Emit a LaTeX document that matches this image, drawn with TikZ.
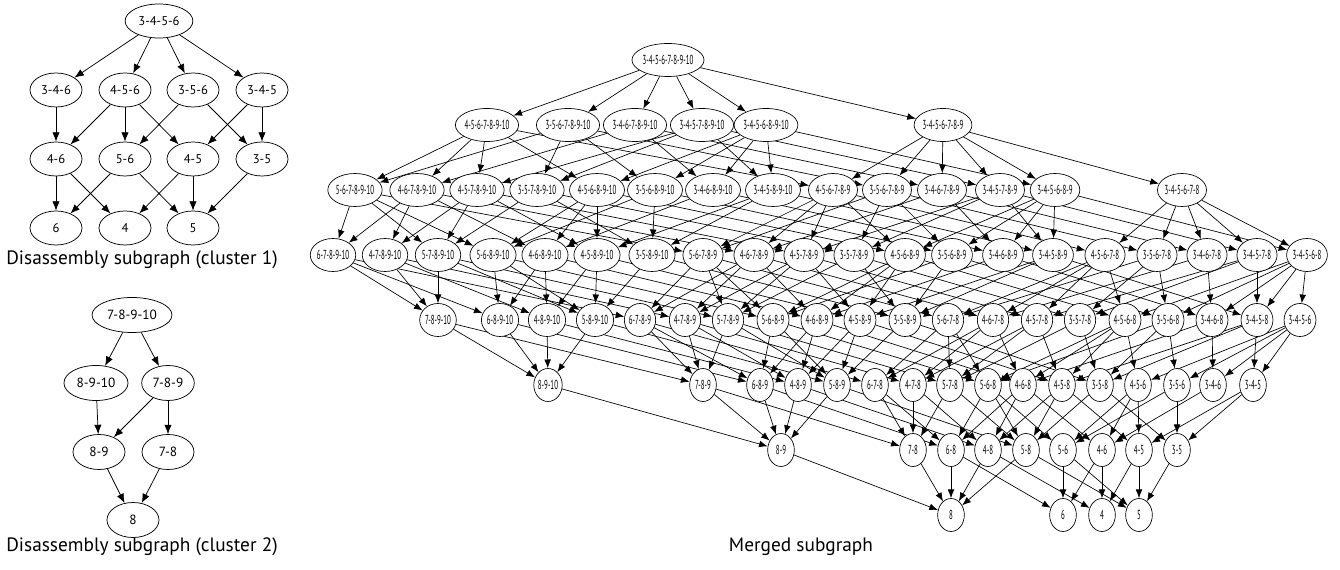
\documentclass[tikz,border=0pt]{standalone}
\usepackage{fontspec}
\setmainfont{PT Sans}
\newfontfamily\narrowfont[FakeStretch=0.53]{PT Sans}
\usetikzlibrary{arrows.meta,shapes.geometric,backgrounds}

\begin{document}
\begin{tikzpicture}[x=0.75pt, y=-0.75pt,
    prec/.style={<-, >={Latex[length=7pt,width=5.5pt]}, line width=0.55pt},
    dep/.style={->, >={Latex[length=6.5pt,width=5pt]}, line width=0.5pt}]
        \tikzset{sub/.style={ellipse, draw=black, fill=white, line width=0.55pt, inner xsep=2.5pt, inner ysep=0pt, minimum width=39pt, minimum height=25.5pt, font=\fontsize{9.5}{10}\selectfont}};
        \tikzset{subb/.style={sub, minimum height=26.25pt, font=\fontsize{10}{11}\selectfont}};
        \tikzset{mrg/.style={ellipse, draw=black, fill=white, line width=0.5pt, inner xsep=0pt, inner ysep=0pt, minimum width=20pt, minimum height=24.75pt, font=\narrowfont\fontsize{9.8}{10}\selectfont}};
        \tikzset{caption/.style={font=\fontsize{14.5}{16}\selectfont}};
        \useasboundingbox (0,0) rectangle (1340,570);

        % cluster 1
        \node[sub] (p3456) at (159, 21) {3-4-5-6};
        \node[sub] (p346) at (56, 90) {3-4-6}
            edge[prec] (p3456);
        \node[sub] (p456) at (125, 90) {4-5-6}
            edge[prec] (p3456);
        \node[sub] (p356) at (193, 90) {3-5-6}
            edge[prec] (p3456);
        \node[sub] (p345) at (262, 90) {3-4-5}
            edge[prec] (p3456);
        \node[sub] (p46) at (56, 159) {4-6}
            edge[prec] (p346)
            edge[prec] (p456);
        \node[sub] (p56) at (125, 159) {5-6}
            edge[prec] (p456)
            edge[prec] (p356);
        \node[sub] (p45) at (193, 159) {4-5}
            edge[prec] (p456)
            edge[prec] (p345);
        \node[sub] (p35) at (262, 159) {3-5}
            edge[prec] (p356)
            edge[prec] (p345);
        \node[sub] (p6) at (56, 228) {6}
            edge[prec] (p46)
            edge[prec] (p56);
        \node[sub] (p4) at (125, 228) {4}
            edge[prec] (p46)
            edge[prec] (p45);
        \node[sub] (p5) at (193, 228) {5}
            edge[prec] (p56)
            edge[prec] (p45)
            edge[prec] (p35);
        \node[caption] (cap1) at (142, 260) {Disassembly subgraph (cluster 1)};

        % cluster 2
        \node[subb] (q78910) at (132, 315) {7-8-9-10};
        \node[subb] (q8910) at (96, 383) {8-9-10}
            edge[prec] (q78910);
        \node[subb] (q789) at (168, 383) {7-8-9}
            edge[prec] (q78910);
        \node[subb] (q89) at (99, 452) {8-9}
            edge[prec] (q8910)
            edge[prec] (q789);
        \node[subb] (q78) at (168, 452) {7-8}
            edge[prec] (q789);
        \node[subb] (q8) at (133, 520) {8}
            edge[prec] (q89)
            edge[prec] (q78);
        \node[caption] (cap2) at (142, 547) {Disassembly subgraph (cluster 2)};

        % merged subgraph, nodes named <cluster 1 part>-<cluster 2 part>, x = none
        \node[mrg] (3456-78910) at (668, 60) {3-4-5-6-7-8-9-10};

        \node[mrg] (456-78910) at (487, 125) {4-5-6-7-8-9-10};
        \node[mrg] (356-78910) at (568, 125) {3-5-6-7-8-9-10};
        \node[mrg] (346-78910) at (635, 125) {3-4-6-7-8-9-10};
        \node[mrg] (345-78910) at (702, 125) {3-4-5-7-8-9-10};
        \node[mrg] (3456-8910) at (766, 125) {3-4-5-6-8-9-10};
        \node[mrg] (3456-789) at (943, 125) {3-4-5-6-7-8-9};

        \node[mrg] (56-78910) at (355, 190) {5-6-7-8-9-10};
        \node[mrg] (46-78910) at (417, 190) {4-6-7-8-9-10};
        \node[mrg] (45-78910) at (477, 190) {4-5-7-8-9-10};
        \node[mrg] (35-78910) at (537, 190) {3-5-7-8-9-10};
        \node[mrg] (456-8910) at (597, 190) {4-5-6-8-9-10};
        \node[mrg] (356-8910) at (655, 190) {3-5-6-8-9-10};
        \node[mrg] (346-8910) at (713, 190) {3-4-6-8-9-10};
        \node[mrg] (345-8910) at (773, 190) {3-4-5-8-9-10};
        \node[mrg] (456-789) at (833, 190) {4-5-6-7-8-9};
        \node[mrg] (356-789) at (887, 190) {3-5-6-7-8-9};
        \node[mrg] (346-789) at (942, 190) {3-4-6-7-8-9};
        \node[mrg] (345-789) at (1000, 190) {3-4-5-7-8-9};
        \node[mrg] (3456-89) at (1055, 190) {3-4-5-6-8-9};
        \node[mrg] (3456-78) at (1182, 190) {3-4-5-6-7-8};

        \node[mrg] (6-78910) at (333, 255) {6-7-8-9-10};
        \node[mrg] (4-78910) at (385, 255) {4-7-8-9-10};
        \node[mrg] (5-78910) at (438, 255) {5-7-8-9-10};
        \node[mrg] (56-8910) at (493, 255) {5-6-8-9-10};
        \node[mrg] (46-8910) at (545, 255) {4-6-8-9-10};
        \node[mrg] (45-8910) at (597, 255) {4-5-8-9-10};
        \node[mrg] (35-8910) at (652, 255) {3-5-8-9-10};
        \node[mrg] (56-789) at (703, 255) {5-6-7-8-9};
        \node[mrg] (46-789) at (754, 255) {4-6-7-8-9};
        \node[mrg] (45-789) at (804, 255) {4-5-7-8-9};
        \node[mrg] (35-789) at (854, 255) {3-5-7-8-9};
        \node[mrg] (456-89) at (905, 255) {4-5-6-8-9};
        \node[mrg] (356-89) at (952, 255) {3-5-6-8-9};
        \node[mrg] (346-89) at (1003, 255) {3-4-6-8-9};
        \node[mrg] (345-89) at (1053, 255) {3-4-5-8-9};
        \node[mrg] (456-78) at (1105, 255) {4-5-6-7-8};
        \node[mrg] (356-78) at (1157, 255) {3-5-6-7-8};
        \node[mrg] (346-78) at (1207, 255) {3-4-6-7-8};
        \node[mrg] (345-78) at (1257, 255) {3-4-5-7-8};
        \node[mrg] (3456-8) at (1307, 255) {3-4-5-6-8};

        \node[mrg] (x-78910) at (438, 320) {7-8-9-10};
        \node[mrg] (6-8910) at (500, 320) {6-8-9-10};
        \node[mrg] (4-8910) at (547, 320) {4-8-9-10};
        \node[mrg] (5-8910) at (595, 320) {5-8-9-10};
        \node[mrg] (6-789) at (640, 320) {6-7-8-9};
        \node[mrg] (4-789) at (685, 320) {4-7-8-9};
        \node[mrg] (5-789) at (728, 320) {5-7-8-9};
        \node[mrg] (56-89) at (773, 320) {5-6-8-9};
        \node[mrg] (46-89) at (817, 320) {4-6-8-9};
        \node[mrg] (45-89) at (860, 320) {4-5-8-9};
        \node[mrg] (35-89) at (905, 320) {3-5-8-9};
        \node[mrg] (56-78) at (948, 320) {5-6-7-8};
        \node[mrg] (46-78) at (993, 320) {4-6-7-8};
        \node[mrg] (45-78) at (1037, 320) {4-5-7-8};
        \node[mrg] (35-78) at (1080, 320) {3-5-7-8};
        \node[mrg] (456-8) at (1125, 320) {4-5-6-8};
        \node[mrg] (356-8) at (1168, 320) {3-5-6-8};
        \node[mrg] (346-8) at (1212, 320) {3-4-6-8};
        \node[mrg] (345-8) at (1257, 320) {3-4-5-8};
        \node[mrg] (3456-x) at (1300, 320) {3-4-5-6};

        \node[mrg] (x-8910) at (548, 385) {8-9-10};
        \node[mrg] (x-789) at (703, 385) {7-8-9};
        \node[mrg] (6-89) at (760, 385) {6-8-9};
        \node[mrg] (4-89) at (798, 385) {4-8-9};
        \node[mrg] (5-89) at (837, 385) {5-8-9};
        \node[mrg] (6-78) at (875, 385) {6-7-8};
        \node[mrg] (4-78) at (913, 385) {4-7-8};
        \node[mrg] (5-78) at (950, 385) {5-7-8};
        \node[mrg] (56-8) at (988, 385) {5-6-8};
        \node[mrg] (46-8) at (1023, 385) {4-6-8};
        \node[mrg] (45-8) at (1062, 385) {4-5-8};
        \node[mrg] (35-8) at (1100, 385) {3-5-8};
        \node[mrg] (456-x) at (1138, 385) {4-5-6};
        \node[mrg] (356-x) at (1177, 385) {3-5-6};
        \node[mrg] (346-x) at (1213, 385) {3-4-6};
        \node[mrg] (345-x) at (1253, 385) {3-4-5};

        \node[mrg] (x-89) at (781, 450) {8-9};
        \node[mrg] (x-78) at (913, 450) {7-8};
        \node[mrg] (6-8) at (951, 450) {6-8};
        \node[mrg] (4-8) at (988, 450) {4-8};
        \node[mrg] (5-8) at (1026, 450) {5-8};
        \node[mrg] (56-x) at (1063, 450) {5-6};
        \node[mrg] (46-x) at (1102, 450) {4-6};
        \node[mrg] (45-x) at (1139, 450) {4-5};
        \node[mrg] (35-x) at (1177, 450) {3-5};

        \node[mrg] (x-8) at (951, 515) {8};
        \node[mrg] (6-x) at (1063, 515) {6};
        \node[mrg] (4-x) at (1102, 515) {4};
        \node[mrg] (5-x) at (1139, 515) {5};

        \node[caption] (cap3) at (801, 547) {Merged subgraph};

        \begin{pgfonlayer}{background}
            % a step of cluster 1 with the cluster 2 part kept
            \foreach \src/\dst in {3456/346, 3456/456, 3456/356, 3456/345, 346/46, 456/56, 456/46, 456/45,
                    356/56, 356/35, 345/45, 345/35, 46/6, 46/4, 56/6, 56/5, 45/4, 45/5, 35/5}
                \foreach \rest in {78910, 8910, 789, 89, 78, 8, x}
                    \draw[dep] (\src-\rest) -- (\dst-\rest);
            \foreach \src in {6, 4, 5}
                \foreach \rest in {78910, 8910, 789, 89, 78, 8}
                    \draw[dep] (\src-\rest) -- (x-\rest);
            % a step of cluster 2 with the cluster 1 part kept
            \foreach \src/\dst in {78910/8910, 78910/789, 8910/89, 789/89, 789/78, 89/8, 78/8}
                \foreach \rest in {3456, 346, 456, 356, 345, 46, 56, 45, 35, 6, 4, 5, x}
                    \draw[dep] (\rest-\src) -- (\rest-\dst);
            \foreach \rest in {3456, 346, 456, 356, 345, 46, 56, 45, 35, 6, 4, 5}
                \draw[dep] (\rest-8) -- (\rest-x);
        \end{pgfonlayer}
    \end{tikzpicture}
\end{document}
